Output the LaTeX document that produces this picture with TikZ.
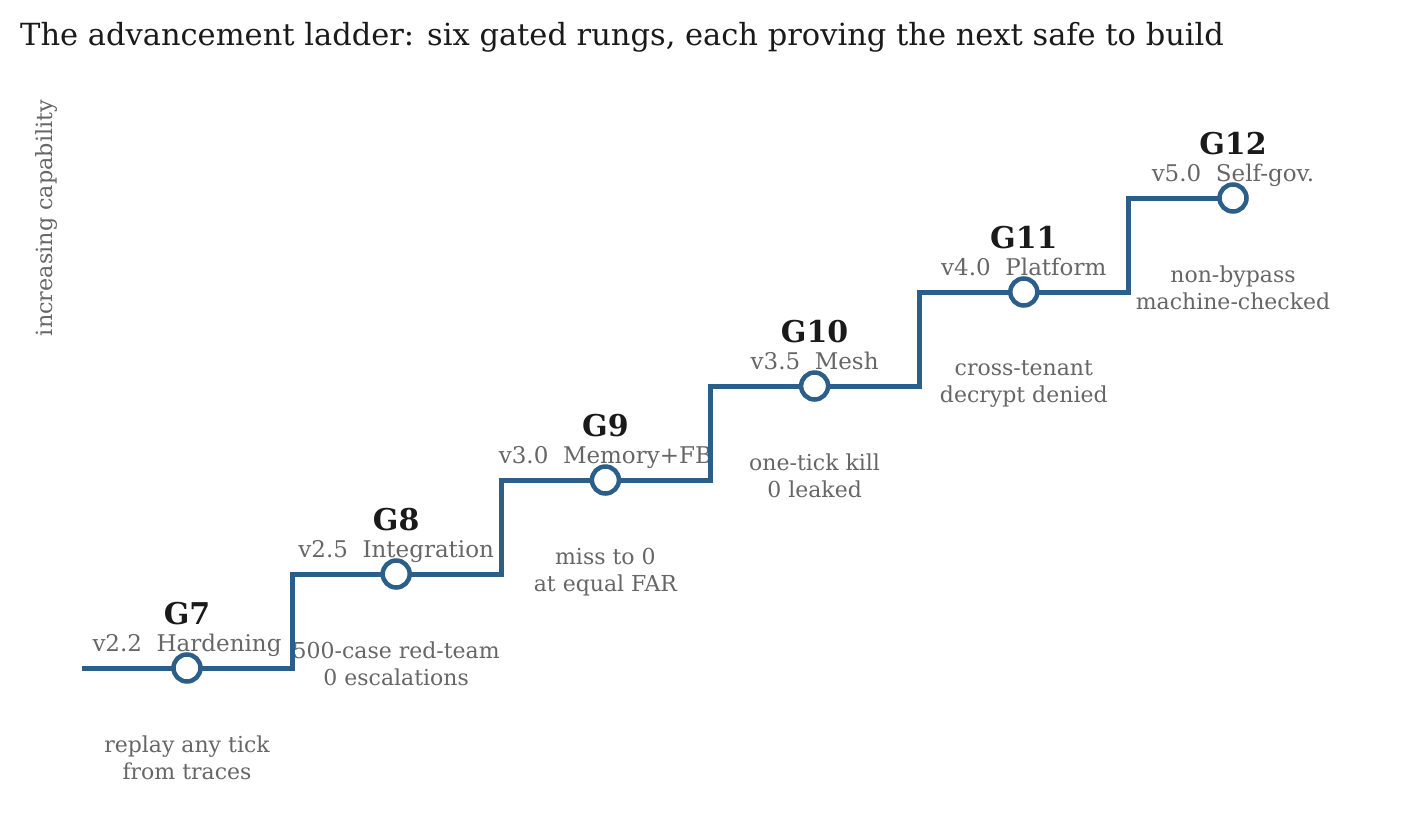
\documentclass[tikz,border=0pt]{standalone}
\usepackage{fontspec}
\setmainfont{DejaVu Serif}
\usetikzlibrary{positioning}

\definecolor{rung}{HTML}{2B5F8A}
\definecolor{note}{HTML}{666666}
\definecolor{ink}{HTML}{1A1A1A}

\tikzset{
    gate/.style={circle, draw=rung, fill=white, line width=4.5pt, minimum size=27pt, inner sep=0pt},
    stair/.style={draw=rung, line width=5pt},
    tag/.style={anchor=base, inner sep=0pt, text=ink, font=\fontsize{30}{35}\selectfont\bfseries},
    ver/.style={anchor=base, inner sep=0pt, text=note, font=\fontsize{23}{28}\selectfont},
    note/.style={anchor=north, inner sep=0pt, align=center, text=note, font=\fontsize{22}{27}\selectfont},
}

\begin{document}
\begin{tikzpicture}[x=1pt, y=-1pt]
    \useasboundingbox (0,0) rectangle (1420,819);

    \node[anchor=base west, inner sep=0pt, text=ink, font=\fontsize{30.5}{36}\selectfont]
        (title) at (20,45) {The advancement ladder: six gated rungs, each proving the next safe to build};
    \node[rotate=90, inner sep=0pt, text=note, font=\fontsize{22.3}{27}\selectfont]
        (axis) at (47,218) {increasing capability};

    % rungs
    \foreach \i/\g/\ver/\what/\la/\lb in {
        0/G7/v2.2/Hardening/replay any tick/from traces,
        1/G8/v2.5/Integration/500-case red-team/0 escalations,
        2/G9/v3.0/Memory+FB/miss to 0/at equal FAR,
        3/G10/v3.5/Mesh/one-tick kill/0 leaked,
        4/G11/v4.0/Platform/cross-tenant/decrypt denied,
        5/G12/v5.0/Self-gov./non-bypass/machine-checked} {
        \coordinate (p\i) at ({187+209.2*\i},{668-94*\i});
        \coordinate (k\i) at ({292+209.2*\i},{668-94*\i});
        \node[tag] (g\i) at ([yshift=43.5pt]p\i) {\g};
        \node[ver] (v\i) at ([yshift=17pt]p\i) {\ver\ \ \what};
        \node[note] (n\i) at ([yshift=-68pt]p\i) {\la\\\lb};
    }

    \coordinate (start) at (82,668);
    \draw[stair] (start) -- (p0);
    \foreach \i [evaluate=\i as \j using int(\i+1)] in {0,...,4}
        \draw[stair] (p\i) -- (k\i) |- (p\j);

    \foreach \i in {0,...,5}
        \node[gate] (c\i) at (p\i) {};
\end{tikzpicture}
\end{document}
